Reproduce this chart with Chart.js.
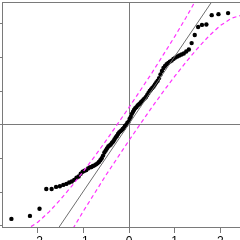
<!DOCTYPE html>
<html>
<head>
<meta charset="utf-8">
<script src="https://cdn.jsdelivr.net/npm/chart.js@4.4.0/dist/chart.umd.min.js"></script>
<style>
  html, body { margin: 0; padding: 0; width: 240px; height: 240px; overflow: hidden; background: #fff; }
  #qq { position: absolute; left: -38px; top: -18px; }
</style>
</head>
<body>
<canvas id="qq" width="300" height="300"></canvas>
<script>
// Theoretical normal quantiles (x) and sample quantiles (y)
const normQuantiles = [
    -2.576, -2.170, -1.960, -1.812, -1.695, -1.598, -1.514, -1.440, -1.372, -1.311,
    -1.254, -1.200, -1.150, -1.103, -1.058, -1.015, -0.974, -0.935, -0.896, -0.860,
    -0.824, -0.789, -0.755, -0.722, -0.690, -0.659, -0.628, -0.598, -0.568, -0.539,
    -0.510, -0.482, -0.454, -0.426, -0.399, -0.372, -0.345, -0.319, -0.292, -0.266,
    -0.240, -0.215, -0.189, -0.164, -0.138, -0.113, -0.088, -0.063, -0.038, -0.013,
    0.013, 0.038, 0.063, 0.088, 0.113, 0.138, 0.164, 0.189, 0.215, 0.240,
    0.266, 0.292, 0.319, 0.345, 0.372, 0.399, 0.426, 0.454, 0.482, 0.510,
    0.539, 0.568, 0.598, 0.628, 0.659, 0.690, 0.722, 0.755, 0.789, 0.824,
    0.860, 0.896, 0.935, 0.974, 1.015, 1.058, 1.103, 1.150, 1.200, 1.254,
    1.311, 1.372, 1.440, 1.514, 1.598, 1.695, 1.812, 1.960, 2.170, 2.576
];
const sampleQuantiles = [
    -2.79, -2.70, -2.49, -1.90, -1.90, -1.84, -1.82, -1.78, -1.75, -1.71,
    -1.68, -1.63, -1.57, -1.53, -1.45, -1.39, -1.36, -1.34, -1.29, -1.26,
    -1.25, -1.22, -1.20, -1.17, -1.14, -1.10, -1.05, -0.99, -0.91, -0.82,
    -0.76, -0.70, -0.64, -0.61, -0.58, -0.53, -0.49, -0.43, -0.37, -0.33,
    -0.27, -0.22, -0.19, -0.16, -0.12, -0.09, -0.03, 0.00, 0.06, 0.09,
    0.18, 0.24, 0.33, 0.39, 0.45, 0.50, 0.53, 0.58, 0.61, 0.64,
    0.68, 0.71, 0.76, 0.79, 0.83, 0.89, 0.95, 1.01, 1.05, 1.10,
    1.14, 1.20, 1.26, 1.31, 1.39, 1.50, 1.60, 1.69, 1.75, 1.80,
    1.84, 1.88, 1.91, 1.96, 2.00, 2.03, 2.06, 2.09, 2.12, 2.18,
    2.24, 2.43, 2.67, 2.91, 2.97, 2.98, 3.26, 3.29, 3.32, 3.40
];

// Reference line (qqline)
const refLineX = [-3, 3];
const refLineY = [-5.97, 6.03];

// Confidence envelope
const envelopeX = [-2.576, -2.5, -2.25, -2, -1.75, -1.5, -1.25, -1, -0.75, -0.5, -0.25, 0,
    0.25, 0.5, 0.75, 1, 1.25, 1.5, 1.75, 2, 2.25, 2.5, 2.576];
const envelopeUpper = [-3.21, -3.21, -3.11, -2.89, -2.58, -2.21, -1.81, -1.38, -0.93, -0.46, 0.03, 0.52,
    1.03, 1.54, 2.08, 2.62, 3.19, 3.79, 4.42, 5.11, 5.89, 6.79, 7.09];
const envelopeLower = [-7.03, -6.73, -5.83, -5.05, -4.36, -3.73, -3.13, -2.56, -2.02, -1.48, -0.97, -0.46,
    0.03, 0.52, 0.99, 1.44, 1.87, 2.27, 2.64, 2.95, 3.17, 3.27, 3.30];

// Axis ticks
const xTicks = [-2, -1, 0, 1, 2];
const yTicks = [-3, -2, -1, 0, 1, 2, 3];

const toPoints = (xs, ys) => xs.map((x, i) => ({ x: x, y: ys[i] }));

// Box round the plot region
const boxPlugin = {
    id: 'box',
    afterDatasetsDraw(chart) {
        const { ctx, chartArea: a } = chart;
        ctx.save();
        ctx.strokeStyle = '#7a7a7a';
        ctx.lineWidth = 1;
        ctx.strokeRect(a.left + 0.5, a.top + 0.5, a.right - a.left, a.bottom - a.top);
        ctx.restore();
    }
};

const zeroLine = (c) => (c.tick && c.tick.value === 0 ? '#7a7a7a' : 'rgba(0,0,0,0)');

new Chart(document.getElementById('qq').getContext('2d'), {
    type: 'scatter',
    data: {
        datasets: [
            {
                label: 'upper',
                data: toPoints(envelopeX, envelopeUpper),
                showLine: true,
                borderColor: '#ff33ff',
                borderWidth: 1.2,
                borderDash: [4, 3],
                pointRadius: 0
            },
            {
                label: 'lower',
                data: toPoints(envelopeX, envelopeLower),
                showLine: true,
                borderColor: '#ff33ff',
                borderWidth: 1.2,
                borderDash: [4, 3],
                pointRadius: 0
            },
            {
                label: 'qqline',
                data: toPoints(refLineX, refLineY),
                showLine: true,
                borderColor: '#6e6e6e',
                borderWidth: 1,
                pointRadius: 0
            },
            {
                label: 'sample',
                data: toPoints(normQuantiles, sampleQuantiles),
                backgroundColor: '#000',
                borderWidth: 0,
                pointRadius: 2.2
            }
        ]
    },
    options: {
        responsive: false,
        animation: false,
        layout: { padding: { left: 0, right: 6, top: 20, bottom: 0 } },
        plugins: {
            legend: { display: false },
            tooltip: { enabled: false }
        },
        scales: {
            x: {
                type: 'linear',
                min: -2.782,
                max: 2.782,
                afterBuildTicks: (s) => { s.ticks = xTicks.map(v => ({ value: v })); },
                afterFit: (s) => { s.height = 55; },
                border: { display: false },
                grid: { color: zeroLine, tickColor: '#7a7a7a', tickLength: 6, lineWidth: 1 },
                ticks: {
                    color: '#000',
                    padding: 1,
                    maxRotation: 0,
                    autoSkip: false,
                    font: { size: 12, family: 'Liberation Sans' }
                }
            },
            y: {
                type: 'linear',
                min: -3.03,
                max: 3.65,
                afterBuildTicks: (s) => { s.ticks = yTicks.map(v => ({ value: v })); },
                afterFit: (s) => { s.width = 40; },
                border: { display: false },
                grid: { color: zeroLine, tickColor: '#7a7a7a', tickLength: 7, lineWidth: 1 },
                ticks: {
                    color: '#000',
                    padding: 2,
                    autoSkip: false,
                    font: { size: 12, family: 'Liberation Sans' }
                }
            }
        }
    },
    plugins: [boxPlugin]
});
</script>
</body>
</html>
